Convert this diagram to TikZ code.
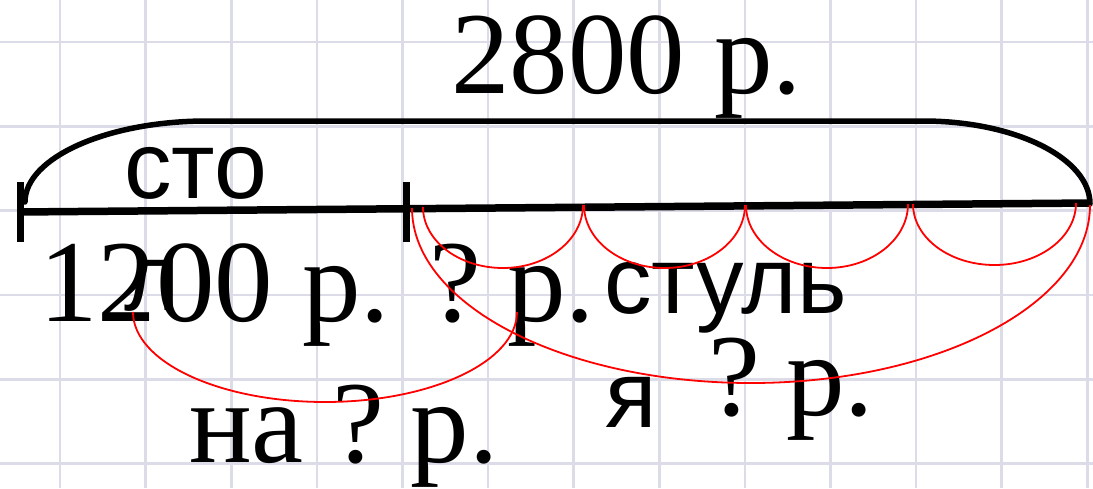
\documentclass[tikz,border=0pt]{standalone}
\usepackage{fontspec}
\setmainfont{Liberation Serif}
\newfontfamily\sansfam{Liberation Sans}
\definecolor{gridcol}{RGB}{220,220,232}
\definecolor{redarc}{RGB}{255,0,0}
\tikzset{
  gridline/.style={draw=gridcol, line width=2.6pt},
  mainline/.style={draw=black, line width=7.5pt},
  tickline/.style={draw=black, line width=7pt},
  braceline/.style={draw=black, line width=5.5pt},
  redline/.style={draw=redarc, line width=1.8pt},
  serift/.style={inner sep=0pt, anchor=base west, font=\fontsize{117}{120}\selectfont},
  sanst/.style={inner sep=0pt, anchor=base west, font=\sansfam\fontsize{95}{110}\selectfont},
}
\newcommand\redhalf[5]{%
  \draw[redline] (#1,#3) .. controls (#1,{#3+0.5523*(#5-#3)}) and ({(#1+#2)/2-0.5523*(#2-#1)/2},#5) .. ({(#1+#2)/2},#5)
    .. controls ({(#1+#2)/2+0.5523*(#2-#1)/2},#5) and (#2,{#4+0.5523*(#5-#4)}) .. (#2,#4);}
\newcommand\qsp{\hspace{26pt}}
\begin{document}
\begin{tikzpicture}[x=1pt,y=-1pt]
\useasboundingbox (0,0) rectangle (1093,488);
\fill[white] (0,0) rectangle (1093,488);
% grid
\foreach \i in {0,...,12} \draw[gridline] ({60+85.6*\i},0) -- ({60+85.6*\i},488);
\foreach \j in {0,...,5} \draw[gridline] (0,{42+84.3*\j}) -- (1093,{42+84.3*\j});
% segment
\coordinate (L) at (18,212);
\coordinate (M) at (406,208.5);
\coordinate (R) at (1091,203);
\draw[mainline] (L) -- (R);
\coordinate (Lt) at (20,182); \coordinate (Lb) at (20,242);
\coordinate (Mt) at (406,182); \coordinate (Mb) at (406,242);
\draw[tickline] (Lt) -- (Lb);
\draw[tickline] (Mt) -- (Mb);
% brace
\coordinate (B0) at (25,202);
\coordinate (B1) at (207,121);
\coordinate (B2) at (923,121);
\coordinate (B3) at (1090,204);
\draw[braceline, line cap=round] (B0) .. controls (25,158) and (106.5,121) .. (B1) -- (B2)
  .. controls (1015.2,121) and (1090,158.2) .. (B3);
% texts
\node[serift] (t2800) at (451,93) {2800 р.};
\node[sanst] (tsto) at (124,198) {сто};
\node[sanst] (tl) at (124,310) {л};
\node[serift] (t1200) at (39,321) {1200 р.};
\node[serift] (tq1) at (429,321) {?\qsp р.};
\node[sanst] (tstul) at (604,313) {стуль};
\node[sanst] (tya) at (605,427) {я};
\node[serift] (tq2) at (708,415) {?\qsp р.};
\node[serift] (tna) at (189,462) {на ?\qsp р.};
% red arcs
\redhalf{423}{583}{207}{205}{268}
\redhalf{584}{745}{205}{205}{268}
\redhalf{746}{908}{205}{204}{268}
\redhalf{913}{1076}{204}{203}{265}
\redhalf{412}{1090}{208}{205}{383}
\redhalf{133}{517}{312}{312}{402}
\end{tikzpicture}
\end{document}
